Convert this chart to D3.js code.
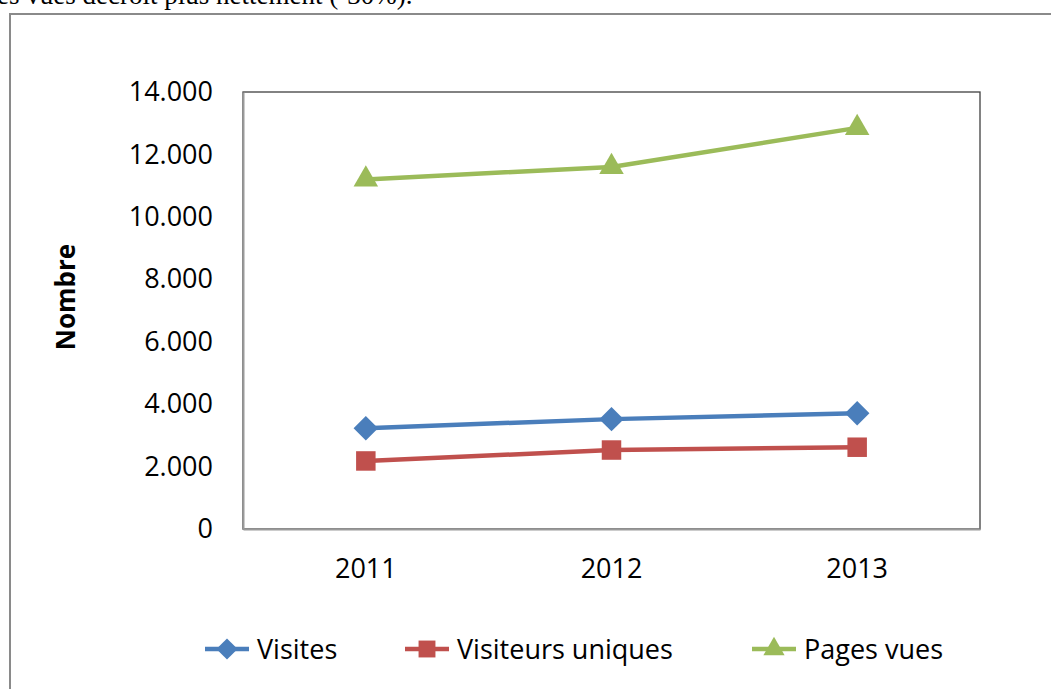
<!DOCTYPE html>
<html><head><meta charset="utf-8">
<script src="https://cdn.jsdelivr.net/npm/d3@7"></script>
<style>body{margin:0;background:#fff;}svg{display:block;}</style>
</head><body>
<svg id="c" width="1051" height="689"></svg>
<script>
const years = ["2011", "2012", "2013"];
const seriesNames = ["Visites", "Visiteurs uniques", "Pages vues"];
const visites = [3230, 3520, 3710];
const visiteursUniques = [2180, 2530, 2620];
const pagesVues = [11200, 11600, 12850];
const yTicks = [0, 2000, 4000, 6000, 8000, 10000, 12000, 14000];
const yTitle = "Nombre";
const headText = "es vues décroît plus nettement (-30%).";

const colors = ["#4A7EBB", "#C0504D", "#9BBB59"];
const symbols = [d3.symbolSquare, d3.symbolSquare, d3.symbolTriangle];
const symRot = [45, 0, 0];
const symSizes = [300, 380, 260];
const values = [visites, visiteursUniques, pagesVues];

const svg = d3.select("#c");
const font = "'Open Sans', sans-serif";

// cut-off text line above the frame
svg.append("text").attr("x", -3).attr("y", 4)
  .attr("font-family", "'Liberation Serif', serif").attr("font-size", 27)
  .attr("fill", "#000").text(headText);

// outer frame
svg.append("rect").attr("x", 10).attr("y", 14).attr("width", 1100).attr("height", 800)
  .attr("fill", "none").attr("stroke", "#8a8a8a").attr("stroke-width", 2);

const m = {l: 243, t: 92, r: 980, b: 529};
const x = d3.scaleBand().domain(years).range([m.l, m.r]);
const y = d3.scaleLinear().domain([0, 14000]).range([m.b, m.t]);

// plot area border
svg.append("rect").attr("x", m.l).attr("y", m.t).attr("width", m.r - m.l).attr("height", m.b - m.t)
  .attr("fill", "none").attr("stroke", "#404040").attr("stroke-width", 1.3);

const fmt = d => d === 0 ? "0" : d3.format(",")(d).replace(/,/g, ".");

const yAxis = svg.append("g").attr("transform", `translate(${m.l},0)`)
  .call(d3.axisLeft(y).tickValues(yTicks).tickFormat(fmt).tickSize(0).tickPadding(30));
yAxis.select(".domain").attr("stroke", "#9a9a9a").attr("stroke-width", 2);
yAxis.selectAll("text").attr("font-family", font).attr("font-size", 27).attr("fill", "#000");

const xAxis = svg.append("g").attr("transform", `translate(0,${m.b})`)
  .call(d3.axisBottom(x).tickSize(0).tickPadding(30));
xAxis.select(".domain").attr("stroke", "#9a9a9a").attr("stroke-width", 2);
xAxis.selectAll("text").attr("font-family", font).attr("font-size", 27).attr("fill", "#000");

svg.append("text").attr("transform", "translate(75,297) rotate(-90)")
  .attr("text-anchor", "middle").attr("font-family", font).attr("font-weight", "bold")
  .attr("font-size", 26).attr("fill", "#000").text(yTitle);

const cx = d => x(d) + x.bandwidth() / 2;
const line = d3.line().x((d, i) => cx(years[i])).y(d => y(d));

values.forEach((vals, s) => {
  svg.append("path").attr("d", line(vals)).attr("fill", "none")
    .attr("stroke", colors[s]).attr("stroke-width", 4.5);
  svg.selectAll(null).data(vals).enter().append("path")
    .attr("d", d3.symbol().type(symbols[s]).size(symSizes[s]))
    .attr("transform", (d, i) => `translate(${cx(years[i])},${y(d)}) rotate(${symRot[s]})`)
    .attr("fill", colors[s]);
});

// legend
const legX = [205, 405, 752];
const legY = 649;
seriesNames.forEach((name, s) => {
  const g = svg.append("g").attr("transform", `translate(${legX[s]},${legY})`);
  g.append("line").attr("x1", 0).attr("x2", 44).attr("y1", 0).attr("y2", 0)
    .attr("stroke", colors[s]).attr("stroke-width", 4.5);
  g.append("path").attr("d", d3.symbol().type(symbols[s]).size(symSizes[s] * 0.75))
    .attr("transform", `translate(22,0) rotate(${symRot[s]})`).attr("fill", colors[s]);
  g.append("text").attr("x", 52).attr("y", 0).attr("dy", "0.36em")
    .attr("font-family", font).attr("font-size", 27).attr("fill", "#000").text(name);
});
</script>
</body></html>
